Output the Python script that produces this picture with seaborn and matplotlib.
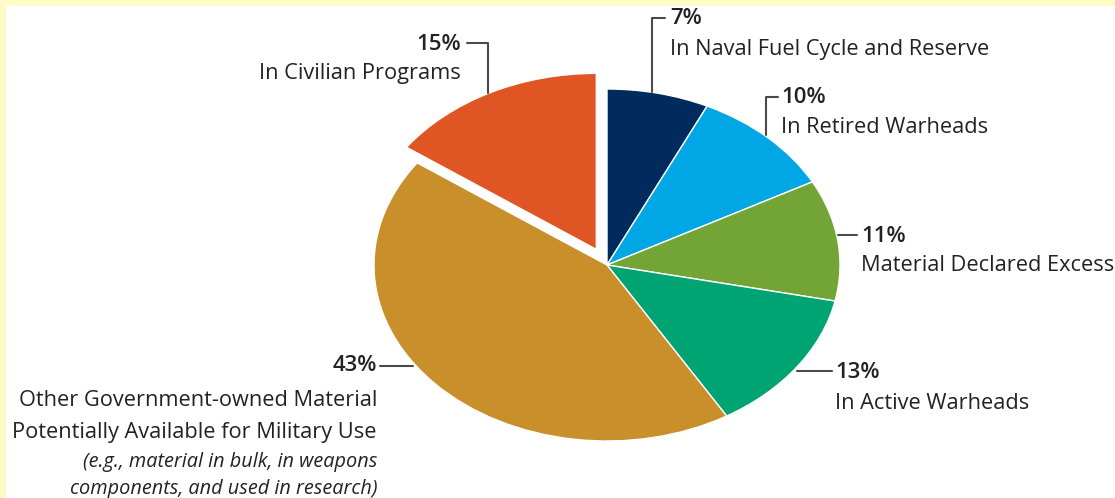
import matplotlib
matplotlib.use("Agg")
import matplotlib.pyplot as plt
from matplotlib.patches import Rectangle
import seaborn as sns

# Shares of the stockpile, clockwise from 12 o'clock
shares = [7, 10, 11, 13, 43, 15]
categories = [
    "In Naval Fuel Cycle and Reserve",
    "In Retired Warheads",
    "Material Declared Excess",
    "In Active Warheads",
    "Other Government-owned Material\nPotentially Available for Military Use",
    "In Civilian Programs",
]
slice_colors = ["#002B5C", "#00A7E4", "#72A535", "#00A372", "#C98F2B", "#E05524"]
explode = [0, 0, 0, 0, 0, 0.1]
note_43 = "(e.g., material in bulk, in weapons\ncomponents, and used in research)"

sns.set_theme(style="white")
plt.rcParams["font.family"] = ["Open Sans", "DejaVu Sans"]

W, H = 1115, 498
fig = plt.figure(figsize=(W / 100, H / 100), dpi=100, facecolor="#FFFBC6")
fig.patches.append(Rectangle((6 / W, 0), 1, 1 - 6 / H, transform=fig.transFigure,
                             facecolor="white", edgecolor="none", zorder=-5))

# Elliptical pie: axes stretched so one data unit is 233 px wide and 176 px tall
cx, cy, rx, ry, span = 607, 265, 233, 176, 1.4
aw, ah = 2 * span * rx, 2 * span * ry
ax = fig.add_axes([(cx - aw / 2) / W, (H - cy - ah / 2) / H, aw / W, ah / H])
ax.pie(shares, colors=sns.color_palette(slice_colors), startangle=90, counterclock=False,
       explode=explode, radius=1,
       wedgeprops=dict(edgecolor="white", linewidth=1.0))
ax.set_aspect("auto")
ax.set_xlim(-span, span)
ax.set_ylim(-span, span)
ax.set_facecolor("none")
ax.axis("off")

# Overlay in pixel coordinates for labels and leader lines
ov = fig.add_axes([0, 0, 1, 1])
ov.set_xlim(0, W)
ov.set_ylim(H, 0)
ov.set_facecolor("none")
ov.axis("off")

ink = "#222222"
lc = "#4a4a4a"
pct_fs, lab_fs, note_fs = 16, 15.7, 14.3


def pct_text(x, y, v, ha="left"):
    ov.text(x, y, f"{v}%", ha=ha, va="center", fontsize=pct_fs,
            fontweight="semibold", color=ink)


def lines(x, ys, text, ha="left", fs=lab_fs, style="normal"):
    for y, line in zip(ys, text.split("\n")):
        ov.text(x, y, line, ha=ha, va="center", fontsize=fs, style=style, color=ink)


# 7%
ov.plot([652, 652, 665], [92, 18, 18], color=lc, lw=1.5)
pct_text(670, 18, shares[0])
lines(670, [49], categories[0])
# 10%
ov.plot([766, 766, 778], [135, 97, 97], color=lc, lw=1.5)
pct_text(781, 97, shares[1])
lines(781, [127], categories[1])
# 11%
ov.plot([838, 857], [235, 235], color=lc, lw=1.5)
pct_text(861, 236, shares[2])
lines(861, [265], categories[2])
# 13%
ov.plot([797, 832], [371, 371], color=lc, lw=1.5)
pct_text(835, 372, shares[3])
lines(835, [403], categories[3])
# 43%
ov.plot([380, 413], [366, 366], color=lc, lw=1.5)
pct_text(377, 365, shares[4], ha="right")
lines(377, [400, 432], categories[4], ha="right")
lines(377, [462, 489], note_43, ha="right", fs=note_fs, style="italic")
# 15%
ov.plot([467, 488, 488], [43, 43, 93], color=lc, lw=1.5)
pct_text(461, 44, shares[5], ha="right")
lines(461, [73], categories[5], ha="right")

fig.savefig("out.png", dpi=100, facecolor=fig.get_facecolor())
